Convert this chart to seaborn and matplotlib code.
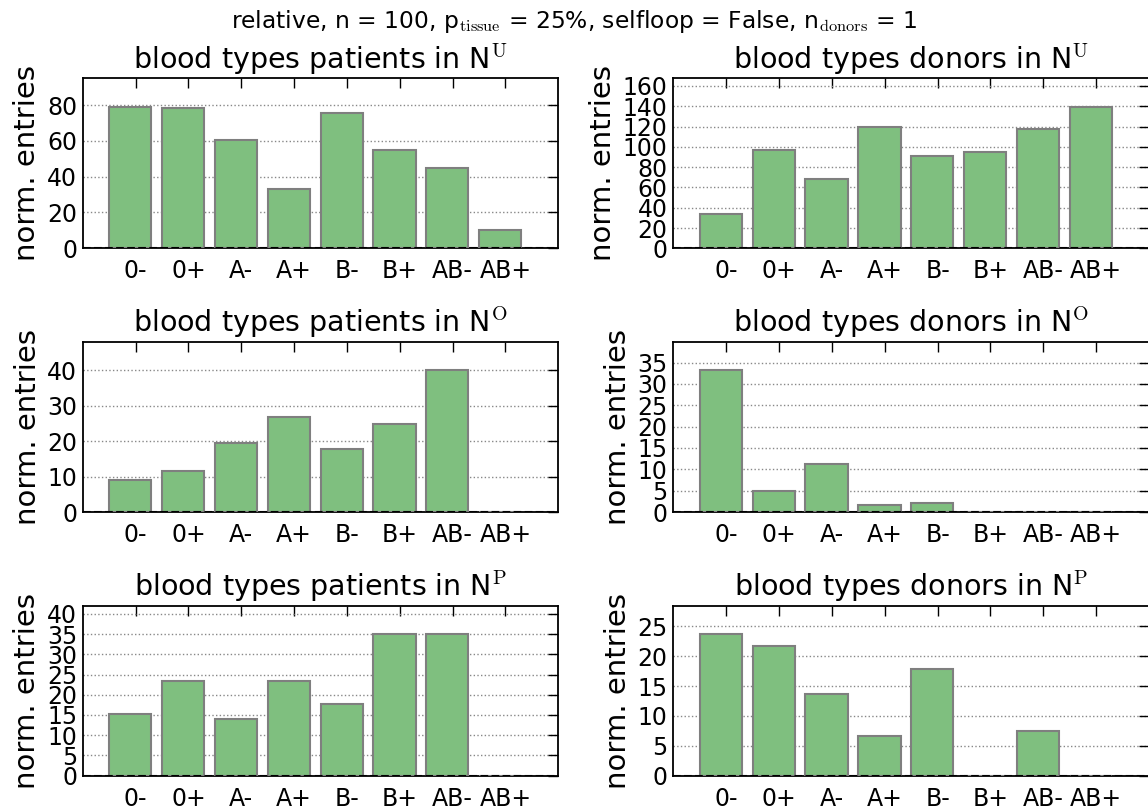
import numpy as np
import matplotlib
matplotlib.use("Agg")
import matplotlib.pyplot as plt
from matplotlib.ticker import MultipleLocator
import seaborn as sns

# blood type categories on every x axis
blood_types = ["0-", "0+", "A-", "A+", "B-", "B+", "AB-", "AB+"]

# normalised entries per blood type
patients_U = [79.1, 78.3, 60.5, 33.3, 75.5, 54.9, 44.8, 10.0]
donors_U = [34.2, 96.6, 68.7, 119.6, 91.3, 94.9, 117.6, 139.6]
patients_O = [9.1, 11.6, 19.4, 26.7, 17.7, 24.9, 40.0, 0.0]
donors_O = [33.2, 4.9, 11.3, 1.6, 2.2, 0.0, 0.0, 0.0]
patients_P = [15.2, 23.4, 14.1, 23.4, 17.8, 35.0, 35.0, 0.0]
donors_P = [23.7, 21.7, 13.75, 6.7, 17.8, 0.0, 7.5, 0.0]

sns.set_style("white")
plt.rcParams["font.family"] = ["DejaVu Sans"]
plt.rcParams["mathtext.fontset"] = "cm"
plt.rcParams["text.color"] = "k"
plt.rcParams["axes.labelcolor"] = "k"
plt.rcParams["xtick.color"] = "k"
plt.rcParams["ytick.color"] = "k"

fig = plt.figure(figsize=(11.48, 8.11), dpi=100)

W, H = 1148.0, 811.0
ax_w, ax_h = 475.6, 170.0
col_left = [82.7, 673.3]
row_bottom = [248.3, 512.0, 775.7]

panels = [
    (patients_U, r"blood types patients in N$^{\mathrm{U}}$", 20),
    (donors_U, r"blood types donors in N$^{\mathrm{U}}$", 20),
    (patients_O, r"blood types patients in N$^{\mathrm{O}}$", 10),
    (donors_O, r"blood types donors in N$^{\mathrm{O}}$", 5),
    (patients_P, r"blood types patients in N$^{\mathrm{P}}$", 5),
    (donors_P, r"blood types donors in N$^{\mathrm{P}}$", 5),
]

bar_face = "#7fbf7f"
bar_edge = "#7f7f7f"

for k, (vals, title, step) in enumerate(panels):
    r, c = divmod(k, 2)
    rect = [col_left[c] / W, 1 - row_bottom[r] / H, ax_w / W, ax_h / H]
    ax = fig.add_axes(rect)
    sns.barplot(x=blood_types, y=vals, ax=ax, color=bar_face, saturation=1,
                edgecolor=bar_edge, linewidth=1.5, width=0.8, zorder=3)
    n = len(blood_types)
    ax.set_xticks(np.arange(n) + 0.1, blood_types)
    ax.set_xlim(-0.9, n + 0.1)
    ax.set_ylim(0, 1.2 * max(vals))
    ax.yaxis.set_major_locator(MultipleLocator(step))
    ax.axhline(0, color="k", ls="--", lw=1.5, zorder=4)
    ax.grid(axis="y", color="#888888", ls=":", lw=1, zorder=0)
    ax.grid(axis="x", visible=False)
    for sp in ax.spines.values():
        sp.set_visible(True)
        sp.set_color("k")
        sp.set_linewidth(1.3)
    ax.tick_params(direction="in", top=True, right=True, length=7, width=1,
                   color="k", labelcolor="k", labelsize=17)
    ax.tick_params(axis="x", pad=8)
    ax.tick_params(axis="y", pad=4)
    ax.set_title(title, fontsize=20.5, color="k", pad=7)
    ax.set_ylabel("norm. entries", fontsize=21, color="k", labelpad=4)
    ax.set_xlabel("")

fig.suptitle(r"relative, n = 100, p$_{\mathrm{tissue}}$ = 25%, selfloop = False, "
             r"n$_{\mathrm{donors}}$ = 1", fontsize=16.8, y=0.974, va="center",
             color="k")

fig.savefig("out.png", dpi=100)
